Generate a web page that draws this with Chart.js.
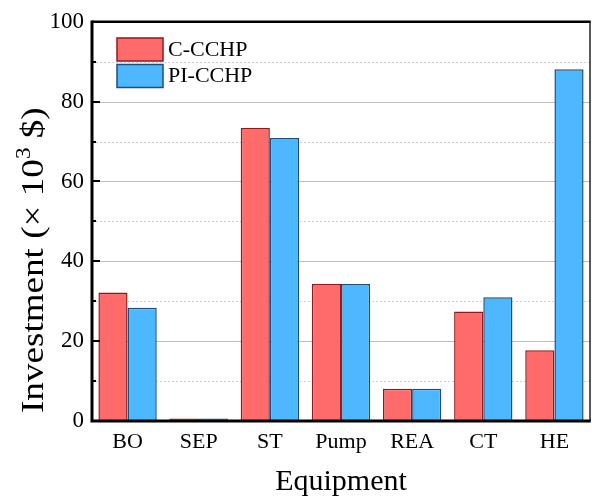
<!DOCTYPE html>
<html>
<head>
<meta charset="utf-8">
<script src="https://cdn.jsdelivr.net/npm/chart.js@4.4.0/dist/chart.umd.min.js"></script>
<style>
  html, body { margin: 0; padding: 0; background: #fff; }
  #wrap { width: 592px; height: 500px; }
</style>
</head>
<body>
<div id="wrap"><canvas id="c" width="592" height="500"></canvas></div>
<script>
// Equipment investment of the two system configurations (×10³ $)
const categories = ['BO', 'SEP', 'ST', 'Pump', 'REA', 'CT', 'HE'];
const cCchp  = [32.2, 0.6, 73.4, 34.3, 8.1, 27.4, 17.7];
const piCchp = [28.4, 0.6, 70.9, 34.3, 8.1, 31.0, 88.1];
const seriesNames = ['C-CCHP', 'PI-CCHP'];
const yMajorTicks = [0, 20, 40, 60, 80, 100];
const yMinorTicks = [10, 30, 50, 70, 90];

const SERIF = '"Liberation Serif", "Times New Roman", serif';
const RED = '#FF6B6B', RED_EDGE = '#8E1B1B';
const BLUE = '#4DB8FF', BLUE_EDGE = '#1D4F7C';

// Grid lines (solid at labelled values, dotted between) under the bars
const gridPlugin = {
  id: 'originGrid',
  beforeDatasetsDraw(chart) {
    const { ctx, chartArea: a, scales: { y } } = chart;
    ctx.save();
    ctx.lineWidth = 1;
    ctx.strokeStyle = '#bdbdbd';
    yMajorTicks.forEach(v => {
      if (v === 0 || v === 100) return;
      const py = Math.round(y.getPixelForValue(v)) + 0.5;
      ctx.beginPath(); ctx.moveTo(a.left, py); ctx.lineTo(a.right, py); ctx.stroke();
    });
    ctx.strokeStyle = '#cfcfcf';
    ctx.setLineDash([2, 2]);
    yMinorTicks.forEach(v => {
      const py = Math.round(y.getPixelForValue(v)) + 0.5;
      ctx.beginPath(); ctx.moveTo(a.left, py); ctx.lineTo(a.right, py); ctx.stroke();
    });
    ctx.restore();
  }
};

// Frame, inward ticks, axis titles and in-plot legend
const framePlugin = {
  id: 'originFrame',
  afterDraw(chart) {
    const { ctx, chartArea: a, scales: { y } } = chart;
    ctx.save();
    // inward ticks on the left axis
    ctx.strokeStyle = '#000';
    ctx.lineWidth = 2;
    yMajorTicks.forEach(v => {
      const py = Math.round(y.getPixelForValue(v));
      ctx.beginPath(); ctx.moveTo(a.left, py); ctx.lineTo(a.left + 8, py); ctx.stroke();
    });
    yMinorTicks.forEach(v => {
      const py = Math.round(y.getPixelForValue(v));
      ctx.beginPath(); ctx.moveTo(a.left, py); ctx.lineTo(a.left + 4, py); ctx.stroke();
    });
    // box
    ctx.lineWidth = 1.5;
    ctx.strokeStyle = '#222';
    ctx.beginPath(); ctx.moveTo(a.right, a.top); ctx.lineTo(a.right, a.bottom); ctx.stroke();
    ctx.lineWidth = 2.5;
    ctx.strokeStyle = '#000';
    ctx.beginPath(); ctx.moveTo(a.left, a.top); ctx.lineTo(a.right + 0.75, a.top); ctx.stroke();
    ctx.lineWidth = 3;
    ctx.beginPath();
    ctx.moveTo(a.left, a.top - 1.25);
    ctx.lineTo(a.left, a.bottom);
    ctx.lineTo(a.right + 0.75, a.bottom);
    ctx.stroke();

    // x axis title
    ctx.fillStyle = '#000';
    ctx.font = '30px ' + SERIF;
    ctx.textAlign = 'center';
    ctx.textBaseline = 'alphabetic';
    ctx.fillText('Equipment', (a.left + a.right) / 2, 490);

    // y axis title with superscript exponent, spread along its length
    ctx.save();
    ctx.translate(43, 413);
    ctx.rotate(-Math.PI / 2);
    ctx.scale(1.16, 1);
    ctx.textAlign = 'left';
    const main = '32px ' + SERIF, sup = '20px ' + SERIF;
    const parts = [
      { t: 'Investment (', f: main, dy: 0 },
      { t: '\u00D7 10', f: main, dy: 0 },
      { t: '3', f: sup, dy: -13 },
      { t: ' $)', f: main, dy: 0 }
    ];
    let x = 0;
    parts.forEach(p => {
      ctx.font = p.f;
      ctx.fillText(p.t, x, p.dy);
      x += ctx.measureText(p.t).width;
    });
    ctx.restore();

    // legend
    const items = [
      { label: seriesNames[0], fill: RED, edge: RED_EDGE },
      { label: seriesNames[1], fill: BLUE, edge: BLUE_EDGE }
    ];
    ctx.font = '22px ' + SERIF;
    ctx.textAlign = 'left';
    ctx.textBaseline = 'middle';
    items.forEach((it, i) => {
      const top = 38 + i * 26.5;
      ctx.fillStyle = it.fill;
      ctx.fillRect(117, top, 46, 23);
      ctx.lineWidth = 1.5;
      ctx.strokeStyle = it.edge;
      ctx.strokeRect(117, top, 46, 23);
      ctx.fillStyle = '#000';
      ctx.fillText(it.label, 168, top + 12);
    });
    ctx.restore();
  }
};

new Chart(document.getElementById('c'), {
  type: 'bar',
  data: {
    labels: categories,
    datasets: [
      { label: seriesNames[0], data: cCchp, backgroundColor: RED, borderColor: RED_EDGE, borderWidth: 1.5 },
      { label: seriesNames[1], data: piCchp, backgroundColor: BLUE, borderColor: BLUE_EDGE, borderWidth: 1.5 }
    ]
  },
  options: {
    responsive: false,
    animation: false,
    devicePixelRatio: 1,
    layout: { padding: { top: 19, right: 2, left: 0, bottom: 0 } },
    datasets: { bar: { categoryPercentage: 0.82, barPercentage: 1.0 } },
    plugins: { legend: { display: false }, tooltip: { enabled: false } },
    scales: {
      x: {
        grid: { display: false, drawTicks: false },
        border: { display: false },
        ticks: { color: '#000', font: { family: SERIF, size: 22 }, padding: 8 },
        afterFit(s) { s.height = 79; }
      },
      y: {
        min: 0, max: 100,
        grid: { display: false, drawTicks: false },
        border: { display: false },
        ticks: {
          color: '#000', font: { family: SERIF, size: 23 }, padding: 8,
          callback: (v) => yMajorTicks.includes(v) ? v : ''
        },
        afterBuildTicks(s) { s.ticks = yMajorTicks.map(v => ({ value: v })); },
        afterFit(s) { s.width = 92; }
      }
    }
  },
  plugins: [gridPlugin, framePlugin]
});
</script>
</body>
</html>
